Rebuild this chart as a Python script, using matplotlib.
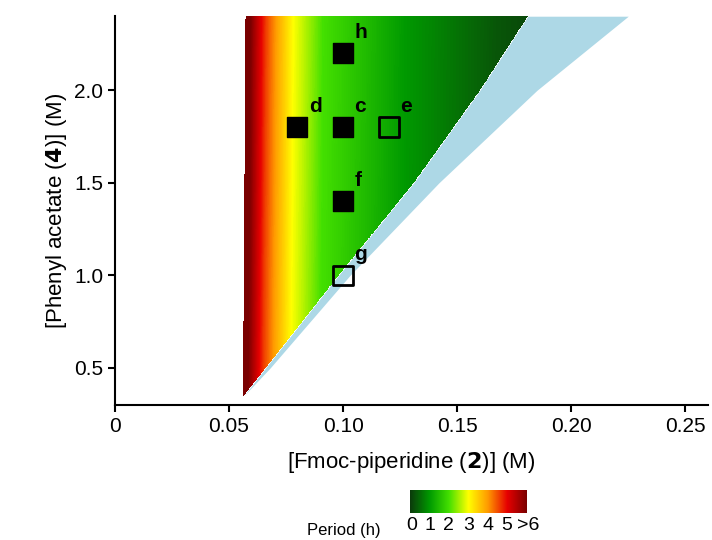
import numpy as np
import matplotlib
matplotlib.use("Agg")
import matplotlib.pyplot as plt
from matplotlib.colors import LinearSegmentedColormap

plt.rcParams["font.family"] = "Liberation Sans"

# boundaries of the oscillatory region
bound_y = [0.35, 0.5, 1.0, 1.5, 2.0, 2.4]
left_x = [0.0560, 0.0562, 0.0565, 0.0568, 0.0570, 0.0572]
green_x = [0.0565, 0.066, 0.098, 0.131, 0.160, 0.181]
blue_x = [0.0565, 0.068, 0.103, 0.142, 0.185, 0.225]

dist_x = [0.0, 0.004, 0.009, 0.014, 0.021, 0.034, 0.07, 0.11, 0.13]
period_v = [6.5, 5.6, 4.6, 3.9, 3.0, 2.0, 1.0, 0.3, 0.1]

# experiments
filled_x = [0.08, 0.10, 0.10, 0.10]
filled_y = [1.8, 1.8, 2.2, 1.4]
filled_lab = ["d", "c", "h", "f"]
open_x = [0.12, 0.10]
open_y = [1.8, 1.0]
open_lab = ["e", "g"]

period_ticks = ["0", "1", "2", "3", "4", "5", ">6"]
cmap = LinearSegmentedColormap.from_list("per", [
    (0.0, "#0b3a0b"), (1/6, "#009a00"), (2/6, "#44e000"), (3/6, "#ffff00"),
    (4/6, "#ff9a00"), (5/6, "#e60000"), (1.0, "#7a0000")])

fig = plt.figure(figsize=(7.12, 5.40), dpi=100)
ax = fig.add_axes([0.1615, 0.25, 0.833, 0.72])

yy = np.linspace(0.35, 2.4, 600)
xg = np.interp(yy, bound_y, green_x)
xbb = np.interp(yy, bound_y, blue_x)
ax.fill_betweenx(yy, xg, xbb, color="#add8e6", lw=0)

X, Y = np.meshgrid(np.linspace(0.05, 0.19, 1500), yy)
XL = np.interp(Y, bound_y, left_x)
XG = np.interp(Y, bound_y, green_x)
P = np.interp(X - XL, dist_x, period_v)
P = np.ma.masked_where((X < XL) | (X > XG), P)
ax.pcolormesh(X, Y, P, cmap=cmap, vmin=0, vmax=6, shading="auto", rasterized=True)

ax.scatter(filled_x, filled_y, marker="s", s=200, c="black", zorder=5)
ax.scatter(open_x, open_y, marker="s", s=200, facecolors="none", edgecolors="black", linewidths=2, zorder=5)
for x, y, l in zip(filled_x + open_x, filled_y + open_y, filled_lab + open_lab):
    ax.text(x + 0.005, y + 0.06, l, fontsize=15, fontweight="bold", ha="left", va="bottom")

ax.set_xlim(0, 0.26)
ax.set_ylim(0.3, 2.4)
ax.set_xticks([0, 0.05, 0.10, 0.15, 0.20, 0.25])
ax.set_xticklabels(["0", "0.05", "0.10", "0.15", "0.20", "0.25"])
ax.set_yticks([0.5, 1.0, 1.5, 2.0])
ax.spines["top"].set_visible(False)
ax.spines["right"].set_visible(False)
ax.spines["left"].set_linewidth(1.5)
ax.spines["bottom"].set_linewidth(1.5)
ax.tick_params(labelsize=15, width=1.5, length=5)
ax.set_xlabel(r"[Fmoc-piperidine ($\mathbf{2}$)] (M)", fontsize=16, labelpad=10)
ax.set_ylabel(r"[Phenyl acetate ($\mathbf{4}$)] (M)", fontsize=16)

cax = fig.add_axes([0.576, 0.05, 0.166, 0.043])
grad = np.linspace(0, 6, 256).reshape(1, -1)
cax.imshow(grad, aspect="auto", cmap=cmap, extent=[0, 6, 0, 1])
cax.set_yticks([])
cax.set_xticks([0.1, 1, 2, 3, 4, 5, 6.1])
cax.set_xticklabels(period_ticks, fontsize=14)
cax.tick_params(length=0, pad=3)
for s in cax.spines.values():
    s.set_visible(False)
fig.text(0.535, 0.018, "Period (h)", fontsize=12, ha="right", va="center")

fig.savefig("out.png", dpi=100)
